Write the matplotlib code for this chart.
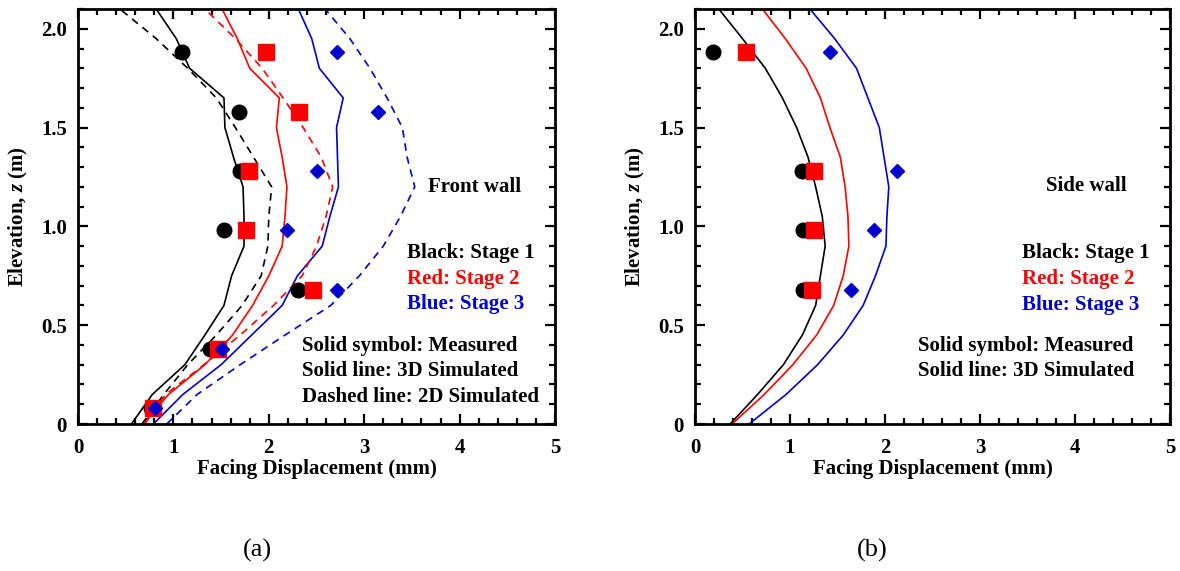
import matplotlib
matplotlib.use("Agg")
import matplotlib.pyplot as plt
from matplotlib.ticker import MultipleLocator, FixedLocator

plt.rcParams['font.family'] = ['Liberation Serif', 'DejaVu Serif']
plt.rcParams['font.weight'] = 'bold'
plt.rcParams['mathtext.fontset'] = 'custom'
plt.rcParams['mathtext.it'] = 'Liberation Serif:italic:bold'
plt.rcParams['mathtext.rm'] = 'Liberation Serif:bold'

# ---------------- data ----------------
z_meas = [0.08, 0.38, 0.68, 0.98, 1.28, 1.58, 1.88]
z_sim = [0.0, 0.15, 0.30, 0.45, 0.60, 0.75, 0.90, 1.05, 1.20, 1.35, 1.50, 1.65, 1.80, 1.95, 2.10]

# Front wall (a)
front_meas_s1 = [0.76, 1.38, 2.31, 1.53, 1.70, 1.69, 1.09]
front_meas_s2 = [0.79, 1.47, 2.46, 1.76, 1.79, 2.32, 1.97]
front_meas_s3 = [0.81, 1.51, 2.71, 2.19, 2.51, 3.14, 2.71]

front_3d_s1 = [0.56, 0.78, 1.12, 1.33, 1.53, 1.61, 1.74, 1.74, 1.73, 1.63, 1.54, 1.53, 1.17, 1.03, 0.82]
front_3d_s2 = [0.68, 0.95, 1.33, 1.62, 1.83, 2.00, 2.14, 2.17, 2.19, 2.14, 2.08, 2.11, 1.80, 1.67, 1.51]
front_3d_s3 = [0.79, 1.10, 1.50, 1.82, 2.14, 2.30, 2.56, 2.64, 2.73, 2.72, 2.71, 2.78, 2.53, 2.45, 2.31]

front_2d_s1 = [0.67, 0.90, 1.15, 1.45, 1.72, 1.92, 1.99, 2.00, 2.03, 1.84, 1.65, 1.45, 1.15, 0.82, 0.44]
front_2d_s2 = [0.70, 0.92, 1.32, 1.70, 2.05, 2.35, 2.50, 2.60, 2.67, 2.55, 2.36, 2.15, 1.93, 1.65, 1.33]
front_2d_s3 = [0.93, 1.25, 1.70, 2.17, 2.65, 2.95, 3.20, 3.38, 3.53, 3.45, 3.40, 3.24, 3.06, 2.85, 2.59]

# Side wall (b)
z_side_meas = [0.68, 0.98, 1.28, 1.88]
side_meas_s1 = [1.14, 1.14, 1.13, 0.19]
side_meas_s2 = [1.23, 1.25, 1.25, 0.54]
side_meas_s3 = [1.64, 1.88, 2.13, 1.42]

side_3d_s1 = [0.37, 0.66, 0.93, 1.13, 1.27, 1.32, 1.37, 1.34, 1.27, 1.19, 1.07, 0.92, 0.74, 0.50, 0.25]
side_3d_s2 = [0.39, 0.73, 1.03, 1.28, 1.46, 1.56, 1.62, 1.61, 1.58, 1.53, 1.42, 1.32, 1.17, 0.95, 0.71]
side_3d_s3 = [0.57, 0.96, 1.29, 1.56, 1.77, 1.90, 2.01, 2.02, 2.04, 1.99, 1.94, 1.82, 1.70, 1.47, 1.21]

x_ticks = [0, 1, 2, 3, 4, 5]
y_ticks = [0, 0.5, 1.0, 1.5, 2.0]
y_ticklabels = ['0', '0.5', '1.0', '1.5', '2.0']

BLACK = '#000000'
RED = '#ff0000'
BLUE = '#0000cd'

W, H = 1180, 571
fig = plt.figure(figsize=(W / 100, H / 100), dpi=100)


def px_axes(x0, x1, ytop, ybot):
    return fig.add_axes([x0 / W, (H - ybot) / H, (x1 - x0) / W, (ybot - ytop) / H])


def style(ax):
    ax.set_xlim(0, 5)
    ax.set_ylim(0, 2.1)
    ax.xaxis.set_major_locator(FixedLocator(x_ticks))
    ax.xaxis.set_minor_locator(MultipleLocator(0.2))
    ax.yaxis.set_major_locator(FixedLocator(y_ticks))
    ax.yaxis.set_minor_locator(MultipleLocator(0.1))
    ax.set_yticklabels(y_ticklabels)
    ax.tick_params(which='both', direction='in', top=True, right=True, width=1.6,
                   labelsize=15)
    ax.tick_params(axis='x', which='major', length=7, pad=10)
    ax.tick_params(axis='y', which='major', length=7, pad=8)
    ax.tick_params(which='minor', length=4)
    for lab in ax.get_xticklabels() + ax.get_yticklabels():
        lab.set_fontweight('bold')
    for sp in ax.spines.values():
        sp.set_linewidth(2.0)
    ax.set_xlabel('Facing Displacement (mm)', fontsize=15, fontweight='bold', labelpad=1)
    ax.set_ylabel(r'Elevation, $\mathit{z}$ (m)', fontsize=15, fontweight='bold', labelpad=8)


lw = 1.2
dash = (0, (4.5, 3.5))

# ---- panel (a) ----
axa = px_axes(78, 555, 9, 424)
style(axa)
axa.plot(front_3d_s1, z_sim, color=BLACK, lw=lw, zorder=2)
axa.plot(front_3d_s2, z_sim, color=RED, lw=lw, zorder=2)
axa.plot(front_3d_s3, z_sim, color=BLUE, lw=lw, zorder=2)
axa.plot(front_2d_s1, z_sim, color=BLACK, lw=lw, ls=dash, zorder=2)
axa.plot(front_2d_s2, z_sim, color=RED, lw=lw, ls=dash, zorder=2)
axa.plot(front_2d_s3, z_sim, color=BLUE, lw=lw, ls=dash, zorder=2)
axa.plot(front_meas_s1, z_meas, ls='none', marker='o', ms=10.5, color=BLACK, zorder=3)
axa.plot(front_meas_s2, z_meas, ls='none', marker='s', ms=11, color=RED, zorder=4)
axa.plot(front_meas_s3, z_meas, ls='none', marker='D', ms=7.5, color=BLUE, zorder=5)

tkw = dict(fontsize=15, fontweight='bold', va='center', ha='left')
axa.text(3.67, 1.20, 'Front wall', color=BLACK, **tkw)
axa.text(3.45, 0.866, 'Black: Stage 1', color=BLACK, **tkw)
axa.text(3.45, 0.734, 'Red: Stage 2', color=RED, **tkw)
axa.text(3.45, 0.607, 'Blue: Stage 3', color=BLUE, **tkw)
axa.text(2.35, 0.395, 'Solid symbol: Measured', color=BLACK, **tkw)
axa.text(2.35, 0.268, 'Solid line: 3D Simulated', color=BLACK, **tkw)
axa.text(2.35, 0.137, 'Dashed line: 2D Simulated', color=BLACK, **tkw)

# ---- panel (b) ----
axb = px_axes(695, 1170, 9, 424)
style(axb)
axb.plot(side_3d_s1, z_sim, color=BLACK, lw=lw, zorder=2)
axb.plot(side_3d_s2, z_sim, color=RED, lw=lw, zorder=2)
axb.plot(side_3d_s3, z_sim, color=BLUE, lw=lw, zorder=2)
axb.plot(side_meas_s1, z_side_meas, ls='none', marker='o', ms=10.5, color=BLACK, zorder=3)
axb.plot(side_meas_s2, z_side_meas, ls='none', marker='s', ms=11, color=RED, zorder=4)
axb.plot(side_meas_s3, z_side_meas, ls='none', marker='D', ms=7.5, color=BLUE, zorder=5)

axb.text(3.69, 1.205, 'Side wall', color=BLACK, **tkw)
axb.text(3.44, 0.866, 'Black: Stage 1', color=BLACK, **tkw)
axb.text(3.44, 0.734, 'Red: Stage 2', color=RED, **tkw)
axb.text(3.44, 0.600, 'Blue: Stage 3', color=BLUE, **tkw)
axb.text(2.35, 0.395, 'Solid symbol: Measured', color=BLACK, **tkw)
axb.text(2.35, 0.268, 'Solid line: 3D Simulated', color=BLACK, **tkw)

fig.text(257 / W, 1 - 550 / H, '(a)', fontsize=19, fontweight='normal', ha='center', va='center')
fig.text(872 / W, 1 - 550 / H, '(b)', fontsize=19, fontweight='normal', ha='center', va='center')

fig.savefig('out.png', dpi=100)
